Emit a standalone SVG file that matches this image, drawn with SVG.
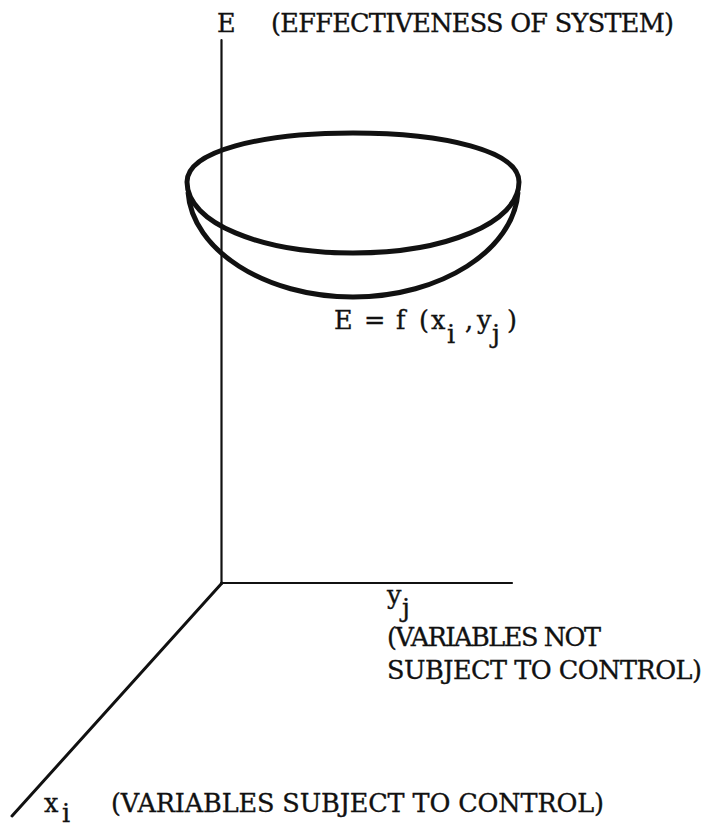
<svg xmlns="http://www.w3.org/2000/svg" width="705" height="827" viewBox="0 0 705 827">
<style>
.t{font-family:"DejaVu Serif","Liberation Serif",serif;font-size:25.5px;fill:#111;stroke:#111;stroke-width:0.35}
.ax{stroke:#111;fill:none;stroke-linecap:round}
.bowl{stroke:#111;fill:none;stroke-width:5}
</style>
<rect width="705" height="827" fill="#fff"/>
<g id="axes">
<line class="ax" x1="221.5" y1="40" x2="221.5" y2="584" stroke-width="2.2"/>
<line class="ax" x1="221" y1="583" x2="512" y2="583" stroke-width="2.2"/>
<line class="ax" x1="222" y1="583" x2="12" y2="816" stroke-width="3"/>
</g>
<g id="surface">
<path class="bowl" d="M187,182 C187,151 261,133 353,133 C445,133 519,151 519,182 C519,223 445,253 353,253 C261,253 187,223 187,182 Z"/>
<path class="bowl" d="M188,192 C192,250 265,297 353,297 C441,297 514,250 518,192"/>
</g>
<g id="labels">
<text class="t" x="217" y="32">E</text>
<text class="t" x="271" y="32" textLength="403" lengthAdjust="spacing">(EFFECTIVENESS OF SYSTEM)</text>
<text class="t" x="334 352 364 385 396 419 431 447 465 477 492 507" y="329 329 329 329 329 329 329 343 329 329 343 329">E = f(xi,yj)</text>
<text class="t" x="387 402" y="604 617">yj</text>
<text class="t" x="387" y="646" textLength="214" lengthAdjust="spacing">(VARIABLES NOT</text>
<text class="t" x="387" y="679" textLength="315" lengthAdjust="spacing">SUBJECT TO CONTROL)</text>
<text class="t" x="44 62" y="812 822">xi</text>
<text class="t" x="111" y="812" textLength="493" lengthAdjust="spacing">(VARIABLES SUBJECT TO CONTROL)</text>
</g>
</svg>
